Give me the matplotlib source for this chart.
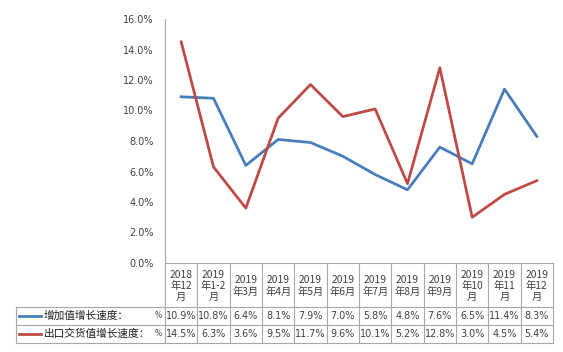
import matplotlib
matplotlib.use("Agg")
import matplotlib.pyplot as plt
from matplotlib.lines import Line2D

plt.rcParams['font.family'] = ['Noto Sans CJK SC', 'DejaVu Sans']

categories = ["2018\n年12\n月", "2019\n年1-2\n月", "2019\n年3月", "2019\n年4月", "2019\n年5月",
              "2019\n年6月", "2019\n年7月", "2019\n年8月", "2019\n年9月", "2019\n年10\n月",
              "2019\n年11\n月", "2019\n年12\n月"]
added_value = [10.9, 10.8, 6.4, 8.1, 7.9, 7.0, 5.8, 4.8, 7.6, 6.5, 11.4, 8.3]
export_value = [14.5, 6.3, 3.6, 9.5, 11.7, 9.6, 10.1, 5.2, 12.8, 3.0, 4.5, 5.4]
series_names = ["增加值增长速度：", "出口交货值增长速度："]
yticks = [0, 2, 4, 6, 8, 10, 12, 14, 16]

W, H = 563, 352
fig = plt.figure(figsize=(W / 100, H / 100), dpi=100)
x0, x1 = 165, 553
ytop, ybot = 19, 263
ax = fig.add_axes([x0 / W, (H - ybot) / H, (x1 - x0) / W, (ybot - ytop) / H])

blue = '#4a7ebb'
red = '#be4b48'
xs = list(range(len(categories)))
ax.plot(xs, added_value, color=blue, lw=2.0)
ax.plot(xs, export_value, color=red, lw=2.0)
ax.set_xlim(-0.5, len(categories) - 0.5)
ax.set_ylim(0, 16)
ax.set_yticks(yticks)
ax.set_yticklabels([f"{v:.1f}%" for v in yticks], fontsize=7, color='#404040',
                   family='DejaVu Sans')
ax.tick_params(axis='y', length=0, pad=8)
ax.set_xticks([])
for s in ['top', 'right']:
    ax.spines[s].set_visible(False)
ax.spines['left'].set_color('#a8a8a8')
ax.spines['bottom'].set_color('#a8a8a8')
ax.spines['left'].set_linewidth(0.8)
ax.spines['bottom'].set_linewidth(0.8)

# table in figure pixel coordinates
def fx(px):
    return px / W

def fy(py):
    return (H - py) / H

gc = '#a8a8a8'
colw = (x1 - x0) / len(categories)
r0, r1, r2, r3 = 263, 307, 325, 343
tl = 16
for i in range(len(categories) + 1):
    xp = x0 + i * colw
    fig.add_artist(Line2D([fx(xp), fx(xp)], [fy(r0), fy(r3)], color=gc, lw=0.8))
fig.add_artist(Line2D([fx(tl), fx(tl)], [fy(r1), fy(r3)], color=gc, lw=0.8))
for yp in [r1, r2, r3]:
    fig.add_artist(Line2D([fx(tl), fx(x1)], [fy(yp), fy(yp)], color=gc, lw=0.8))

tc = '#404040'
for i, c in enumerate(categories):
    xc = x0 + (i + 0.5) * colw
    fig.text(fx(xc), fy((r0 + r1) / 2 + 1), c, ha='center', va='center', fontsize=7.4,
             color=tc, linespacing=1.12)
    fig.text(fx(xc), fy((r1 + r2) / 2), f"{added_value[i]:.1f}%", ha='center', va='center',
             fontsize=6.9, color=tc, family='DejaVu Sans')
    fig.text(fx(xc), fy((r2 + r3) / 2), f"{export_value[i]:.1f}%", ha='center', va='center',
             fontsize=6.9, color=tc, family='DejaVu Sans')

for j, (name, col) in enumerate(zip(series_names, [blue, red])):
    yc = (r1 + r2) / 2 if j == 0 else (r2 + r3) / 2
    fig.add_artist(Line2D([fx(19), fx(41)], [fy(yc), fy(yc)], color=col, lw=2.0))
    fig.text(fx(44), fy(yc), name, ha='left', va='center', fontsize=7.7, color='#202020')
    fig.text(fx(162), fy(yc), "%", ha='right', va='center', fontsize=5.5, color=tc,
             family='DejaVu Sans')

fig.savefig('out.png', dpi=100, facecolor='white')
